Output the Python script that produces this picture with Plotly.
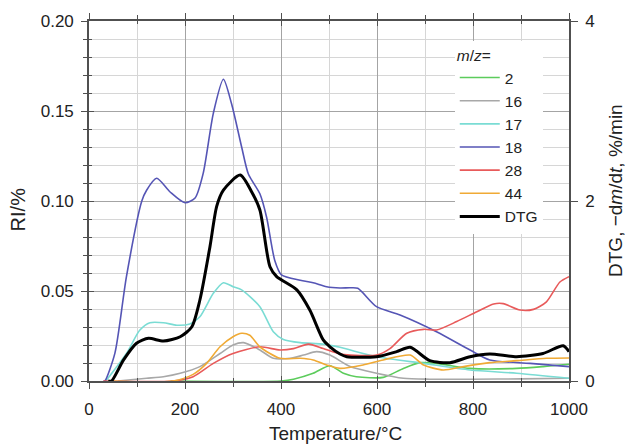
import plotly.graph_objects as go

# ---------------- data ----------------
T_2 = [170, 400, 426, 467, 502, 530, 557, 613, 655, 690, 724, 794, 891, 946, 1000]
RI_2 = [0, 0, 0.001, 0.0043, 0.0085, 0.0043, 0.0024, 0.002, 0.007, 0.0102, 0.0098, 0.007, 0.007, 0.008, 0.0093]

T_16 = [60, 120, 155, 190, 231, 273, 300, 322, 356, 384, 419, 447, 474, 502, 544, 599, 655, 710, 800, 900, 1000]
RI_16 = [0, 0.0015, 0.0024, 0.0043, 0.008, 0.0153, 0.020, 0.0213, 0.0172, 0.0126, 0.0126, 0.0144, 0.0163,
         0.0144, 0.008, 0.0043, 0.0015, 0.001, 0.001, 0.0012, 0.0015]

T_17 = [35, 78, 106, 127, 155, 183, 210, 231, 259, 280, 300, 318, 356, 384, 405, 440, 488, 523, 599, 697, 794, 891, 1000]
RI_17 = [0, 0.0153, 0.0283, 0.0324, 0.0324, 0.031, 0.0317, 0.0357, 0.0487, 0.0546, 0.0524, 0.0506, 0.0413,
         0.0274, 0.0231, 0.0213, 0.0205, 0.0187, 0.0135, 0.0098, 0.0061, 0.0043, 0.0015]

T_18 = [30, 33, 54, 78, 110, 120, 141, 169, 200, 221, 238, 259, 280, 297, 318, 332, 356, 370, 387, 401, 440,
        467, 495, 523, 544, 560, 599, 648, 724, 794, 835, 919, 1000]
RI_18 = [0, 0, 0.0155, 0.058, 0.100, 0.106, 0.1126, 0.105, 0.099, 0.1017, 0.1155, 0.1487, 0.1676, 0.154,
         0.130, 0.115, 0.104, 0.091, 0.067, 0.059, 0.056, 0.0546, 0.0524, 0.0517, 0.0518, 0.0515, 0.0413,
         0.0367, 0.0274, 0.0172, 0.0117, 0.0098, 0.008]

T_28 = [30, 175, 217, 259, 300, 356, 398, 426, 457, 488, 523, 544, 599, 627, 662, 697, 724, 766, 808, 843,
        863, 898, 926, 953, 981, 1000]
RI_28 = [0, 0, 0.0024, 0.0098, 0.0153, 0.019, 0.0172, 0.018, 0.0205, 0.018, 0.0150, 0.0144, 0.0144, 0.018,
         0.0265, 0.0287, 0.0283, 0.033, 0.0385, 0.0428, 0.043, 0.0394, 0.0398, 0.044, 0.055, 0.058]

T_44 = [40, 175, 217, 245, 273, 300, 318, 335, 356, 398, 440, 467, 495, 523, 571, 613, 669, 697, 738, 780,
        835, 891, 953, 1000]
RI_44 = [0, 0, 0.0037, 0.0098, 0.019, 0.0246, 0.0265, 0.0254, 0.019, 0.0126, 0.0126, 0.0117, 0.0089, 0.007,
         0.0089, 0.0117, 0.0144, 0.0089, 0.0061, 0.008, 0.0102, 0.0113, 0.0126, 0.0128]

T_DTG = [40, 47, 72, 99, 124, 155, 190, 214, 231, 252, 266, 280, 315, 339, 356, 377, 391, 433, 460, 488, 502,
         523, 537, 599, 641, 669, 710, 752, 794, 835, 891, 946, 988, 1000]
DTG = [0, 0, 0.234, 0.42, 0.474, 0.444, 0.492, 0.60, 0.90, 1.492, 1.94, 2.12, 2.288, 2.10, 1.90, 1.27, 1.16,
       1.012, 0.788, 0.456, 0.38, 0.30, 0.27, 0.27, 0.326, 0.374, 0.226, 0.204, 0.27, 0.30, 0.27, 0.306,
       0.392, 0.326]

series = [
    ("2", T_2, RI_2, "#5ccc5c"),
    ("16", T_16, RI_16, "#a8a8a8"),
    ("17", T_17, RI_17, "#7adcd4"),
    ("18", T_18, RI_18, "#5555b5"),
    ("28", T_28, RI_28, "#e85a5a"),
    ("44", T_44, RI_44, "#f0aa35"),
]

FONT = "Liberation Sans, Arial, Helvetica, sans-serif"
AX = "#505050"
TXT = "#222222"

fig = go.Figure()
for name, t, v, c in series:
    fig.add_trace(go.Scatter(x=t, y=v, name=name, mode="lines",
                             line=dict(color=c, width=1.6, shape="spline", smoothing=0.7),
                             xaxis="x", yaxis="y"))
fig.add_trace(go.Scatter(x=T_DTG, y=DTG, name="DTG", mode="lines",
                         line=dict(color="black", width=3, shape="spline", smoothing=0.7),
                         xaxis="x", yaxis="y2"))
# invisible helpers so that the inner-tick overlay axes are drawn
fig.add_trace(go.Scatter(x=[None], y=[None], xaxis="x3", yaxis="y", showlegend=False, hoverinfo="skip"))
fig.add_trace(go.Scatter(x=[None], y=[None], xaxis="x", yaxis="y3", showlegend=False, hoverinfo="skip"))

fig.update_layout(
    width=625, height=444,
    margin=dict(l=89, r=56, t=21, b=63),
    paper_bgcolor="white", plot_bgcolor="white",
    font=dict(family=FONT, size=17, color=TXT),
    showlegend=True,
    legend=dict(
        x=0.762, y=0.945, xanchor="left", yanchor="top",
        bgcolor="white", borderwidth=0,
        font=dict(size=15.5, color=TXT),
        title=dict(text="<i>m</i>/<i>z</i>=", font=dict(size=15.5, color=TXT)),
        itemwidth=40,
    ),
    xaxis=dict(
        range=[0, 1000], tick0=0, dtick=200, ticks="outside", ticklen=6, tickwidth=1.3,
        tickcolor=AX, showline=True, linecolor=AX, linewidth=1.6, mirror="ticks",
        showgrid=True, gridcolor="#a4a4a4", gridwidth=1.2, zeroline=False,
        tickfont=dict(size=17, color=TXT), ticklabelstandoff=6,
        minor=dict(dtick=100, ticks="outside", ticklen=4, tickwidth=1.1, tickcolor=AX,
                   showgrid=True, gridcolor="#d6d6d6", gridwidth=1),
    ),
    xaxis3=dict(
        overlaying="x", anchor="y", range=[0, 1000], tick0=0, dtick=200, ticks="inside",
        ticklen=5, tickwidth=1.3, tickcolor=AX, showline=False, mirror="ticks",
        showgrid=False, zeroline=False, showticklabels=False,
        minor=dict(dtick=100, ticks="inside", ticklen=3, tickwidth=1.1, tickcolor=AX, showgrid=False),
    ),
    yaxis=dict(
        range=[0, 0.2], tick0=0, dtick=0.05, tickformat=".2f", ticks="outside", ticklen=6,
        tickwidth=1.3, tickcolor=AX, showline=True, linecolor=AX, linewidth=1.6,
        showgrid=True, gridcolor="#a4a4a4", gridwidth=1.2, zeroline=False,
        tickfont=dict(size=17, color=TXT), ticklabelstandoff=4,
        minor=dict(dtick=0.01, ticks="outside", ticklen=4, tickwidth=1.1, tickcolor=AX,
                   showgrid=True, gridcolor="#d6d6d6", gridwidth=1),
    ),
    yaxis3=dict(
        overlaying="y", anchor="x", side="left", range=[0, 0.2], tick0=0, dtick=0.05,
        ticks="inside", ticklen=5, tickwidth=1.3, tickcolor=AX, showline=False,
        showgrid=False, zeroline=False, showticklabels=False,
        minor=dict(dtick=0.01, ticks="inside", ticklen=3, tickwidth=1.1, tickcolor=AX, showgrid=False),
    ),
    yaxis2=dict(
        overlaying="y", side="right", anchor="x", range=[0, 4], tick0=0, dtick=2,
        ticks="outside", ticklen=7, tickwidth=1.3, tickcolor=AX, showline=True, linecolor=AX,
        linewidth=1.6, showgrid=False, zeroline=False,
        tickfont=dict(size=17, color=TXT), ticklabelstandoff=4,
    ),
    annotations=[
        dict(text="Temperature/°C", xref="paper", yref="paper", x=0.5125, y=-0.147,
             showarrow=False, font=dict(size=19, color=TXT), xanchor="center", yanchor="middle"),
        dict(text="RI/%", xref="paper", yref="paper", x=-0.149, y=0.478, textangle=-90,
             showarrow=False, font=dict(size=20, color=TXT), xanchor="center", yanchor="middle"),
        dict(text="DTG, −d<i>m</i>/d<i>t</i>, %/min", xref="paper", yref="paper", x=1.098, y=0.528,
             textangle=-90, showarrow=False, font=dict(size=19, color=TXT),
             xanchor="center", yanchor="middle"),
    ],
)

fig.write_html("out.html")
